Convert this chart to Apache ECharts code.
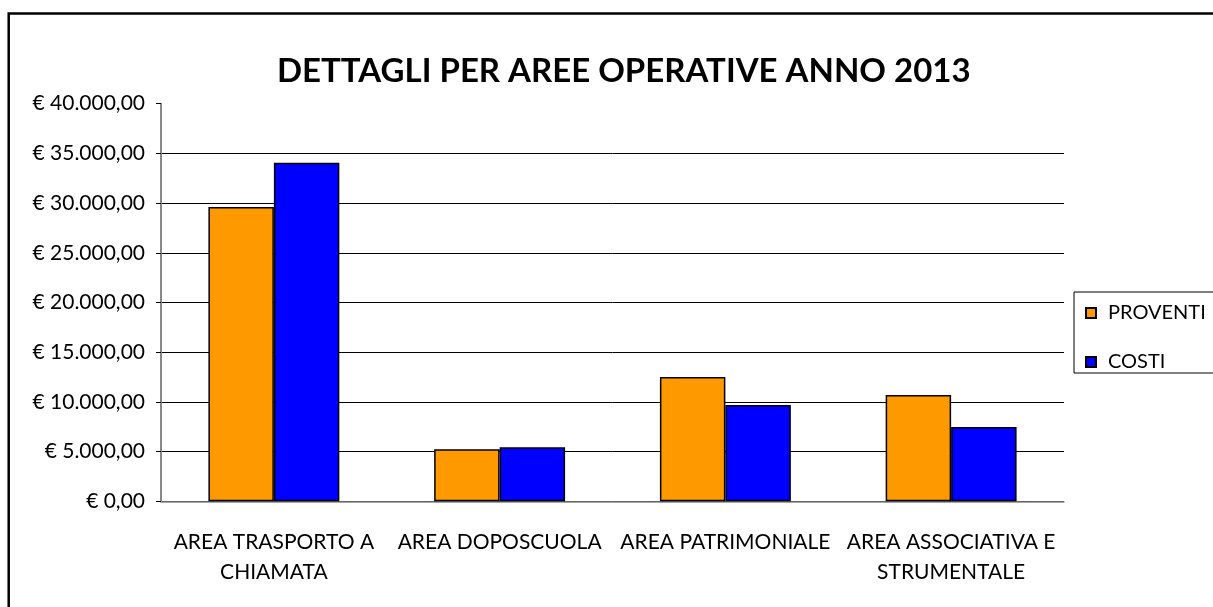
<!DOCTYPE html>
<html>
<head>
<meta charset="utf-8">
<script src="https://cdn.jsdelivr.net/npm/echarts@6/dist/echarts.min.js"></script>
<style>html,body{margin:0;padding:0;background:#fff;}#c{width:1213px;height:607px;}</style>
</head>
<body>
<div id="c"></div>
<script>
const titleText = 'DETTAGLI PER AREE OPERATIVE ANNO 2013';
const categories = ['AREA TRASPORTO A\nCHIAMATA', 'AREA DOPOSCUOLA', 'AREA PATRIMONIALE', 'AREA ASSOCIATIVA E\nSTRUMENTALE'];
const proventi = [29600, 5230, 12500, 10700];
const costi = [34050, 5430, 9690, 7470];
const seriesNames = ['PROVENTI', 'COSTI'];
const yMin = 0, yMax = 40000, yStep = 5000;

const FONT = 'Lato';
const chart = echarts.init(document.getElementById('c'), null, {renderer: 'canvas'});
const fmt = v => {
  const s = Math.round(v).toString().replace(/\B(?=(\d{3})+(?!\d))/g, '.');
  return '€ ' + s + ',00';
};
chart.setOption({
  animation: false,
  backgroundColor: '#fff',
  title: {
    text: titleText, left: 272, top: 50,
    textStyle: {fontFamily: FONT, fontWeight: 'bold', fontSize: 33, color: '#000'}
  },
  graphic: [{
    type: 'rect', shape: {x: 8.7, y: 13.5, width: 1300, height: 700},
    style: {fill: 'none', stroke: '#000', lineWidth: 2.5}, silent: true, z: 100
  }],
  legend: {
    orient: 'vertical', left: 1074, top: 292,
    padding: [11, 20, 1, 11], itemGap: 29,
    itemWidth: 10, itemHeight: 10, icon: 'rect',
    borderColor: '#000', borderWidth: 1,
    textStyle: {fontFamily: FONT, fontSize: 20, color: '#000', lineHeight: 16, padding: [0, 0, 0, 7]},
    data: seriesNames
  },
  grid: {left: 161, right: 149, top: 103.7, bottom: 105.7, containLabel: false},
  xAxis: {
    type: 'category', data: categories,
    axisLine: {lineStyle: {color: '#888', width: 1.5}},
    axisTick: {length: 7, lineStyle: {color: '#888', width: 1.5}},
    axisLabel: {interval: 0, fontFamily: FONT, fontSize: 21, color: '#000', lineHeight: 30, margin: 26}
  },
  yAxis: {
    type: 'value', min: yMin, max: yMax, interval: yStep,
    axisLine: {show: true, lineStyle: {color: '#888', width: 2}},
    axisTick: {show: true, length: 5, lineStyle: {color: '#000', width: 1}},
    axisLabel: {formatter: fmt, fontFamily: FONT, fontSize: 21, color: '#000', margin: 16},
    splitLine: {show: true, showMaxLine: false, lineStyle: {color: '#000', width: 1}}
  },
  series: [
    {name: seriesNames[0], type: 'bar', data: proventi, barGap: '0%', barCategoryGap: '42%',
     itemStyle: {color: '#FF9900', borderColor: '#000', borderWidth: 1.5}},
    {name: seriesNames[1], type: 'bar', data: costi,
     itemStyle: {color: '#0000FF', borderColor: '#000', borderWidth: 1.5}}
  ]
});
</script>
</body>
</html>
